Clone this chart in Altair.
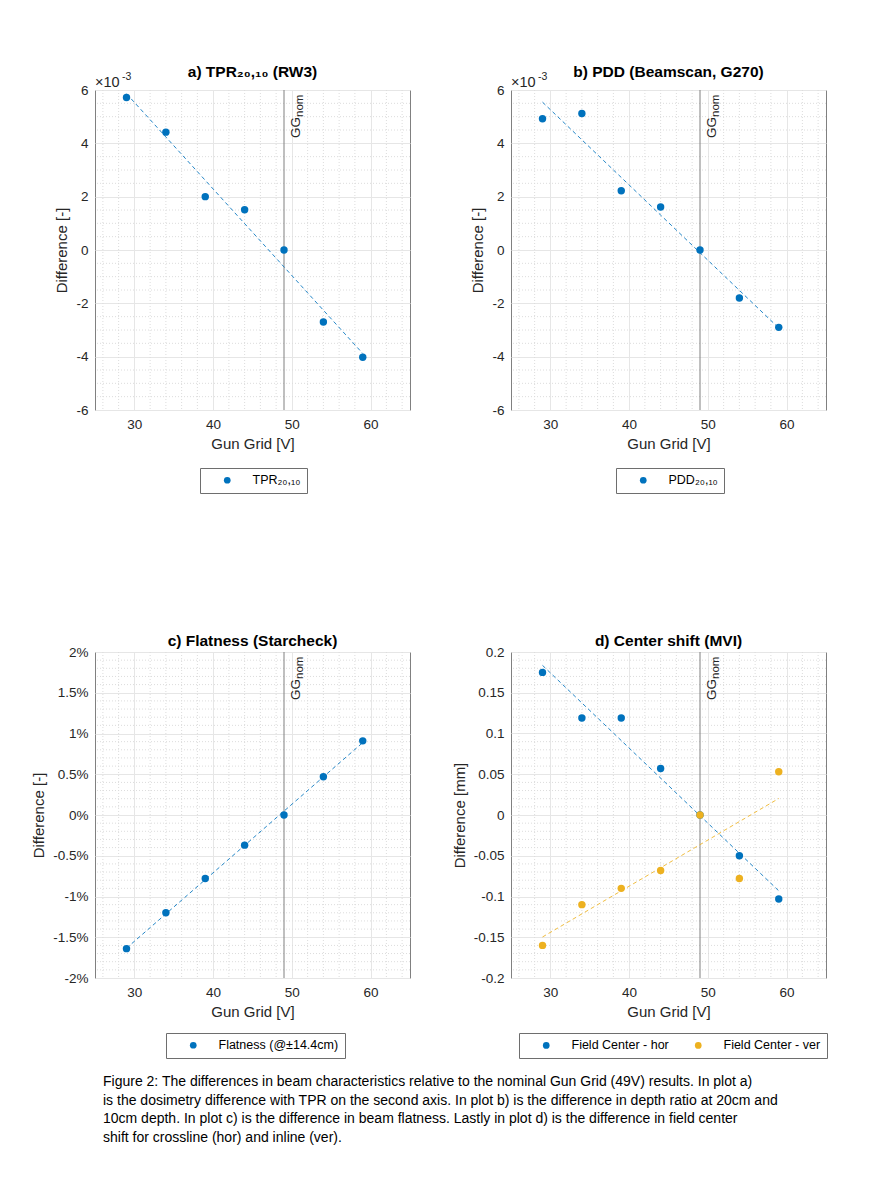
import altair as alt
import pandas as pd

# ---------------- data ----------------
gun_grid = [29, 34, 39, 44, 49, 54, 59]
tpr_diff = [5.72e-3, 4.42e-3, 2.00e-3, 1.51e-3, 0.0, -2.70e-3, -4.02e-3]
pdd_diff = [4.92e-3, 5.12e-3, 2.22e-3, 1.61e-3, 0.0, -1.80e-3, -2.90e-3]
flatness_diff = [-0.0164, -0.0120, -0.0078, -0.0037, 0.0, 0.0047, 0.0091]
center_hor = [0.175, 0.119, 0.119, 0.057, 0.0, -0.050, -0.103]
center_ver = [-0.160, -0.110, -0.090, -0.068, 0.0, -0.078, 0.053]
gg_nominal = [49]

x_major = [30, 40, 50, 60]
x_minor = [v for v in range(26, 65, 2) if v % 10]
y_major_ab = [-6e-3, -4e-3, -2e-3, 0.0, 2e-3, 4e-3, 6e-3]
y_minor_ab = [i * 0.5e-3 for i in range(-12, 13) if i % 4]
y_major_c = [-0.02, -0.015, -0.01, -0.005, 0.0, 0.005, 0.01, 0.015, 0.02]
y_minor_c = [i * 0.001 for i in range(-20, 21) if i % 5]
y_major_d = [-0.2, -0.15, -0.1, -0.05, 0.0, 0.05, 0.1, 0.15, 0.2]
y_minor_d = [i * 0.01 for i in range(-20, 21) if i % 5]

caption = [
    "Figure 2: The differences in beam characteristics relative to the nominal Gun Grid (49V) results. In plot a)",
    "is the dosimetry difference with TPR on the second axis. In plot b) is the difference in depth ratio at 20cm and",
    "10cm depth. In plot c) is the difference in beam flatness. Lastly in plot d) is the difference in field center",
    "shift for crossline (hor) and inline (ver).",
]

FONT = "Liberation Sans"
BLUE = "#0072BD"
YELLOW = "#EDB120"
GRID_MINOR = "#dcdcdc"


def panel(series, title, ytitle, ydom, ymajor, yminor, yexpr, height,
          legend_x, legend_y, title_offset, legend_cols=1, exponent=False):
    rows = []
    for name, vals, _ in series:
        for g, v in zip(gun_grid, vals):
            rows.append({"gun_grid": g, "value": v, "series": name})
    df = pd.DataFrame(rows)
    names = [s[0] for s in series]
    colors = [s[2] for s in series]
    xs = alt.Scale(domain=[25, 65], nice=False, zero=False)
    ys = alt.Scale(domain=ydom, nice=False, zero=False)
    cs = alt.Scale(domain=names, range=colors)
    xax = alt.Axis(values=x_major, title="Gun Grid [V]", grid=True)
    yax = alt.Axis(values=ymajor, title=ytitle, grid=True, labelExpr=yexpr)

    def X(f):
        return alt.X(f, scale=xs, axis=xax)

    def Y(f):
        return alt.Y(f, scale=ys, axis=yax)

    xminor = alt.Chart(pd.DataFrame({"v": x_minor})).mark_rule(
        color=GRID_MINOR, strokeDash=[1, 2], strokeWidth=1
    ).encode(x=X("v:Q"))
    yminor_l = alt.Chart(pd.DataFrame({"v": yminor})).mark_rule(
        color=GRID_MINOR, strokeDash=[1, 2], strokeWidth=1
    ).encode(y=Y("v:Q"))

    gg_df = pd.DataFrame({"g": gg_nominal})
    gg = alt.Chart(gg_df).mark_rule(color="#808080", strokeWidth=1).encode(x=X("g:Q"))
    gg_t = alt.Chart(gg_df).mark_text(
        text="GG", angle=270, align="left", baseline="top", fontSize=13.5,
        dy=5, font=FONT, color="#262626"
    ).encode(x=X("g:Q"), y=alt.value(48))
    nom_t = alt.Chart(gg_df).mark_text(
        text="nom", angle=270, align="left", baseline="top", fontSize=11.5,
        dy=10, font=FONT, color="#262626"
    ).encode(x=X("g:Q"), y=alt.value(27))

    fits = []
    for name, _, col in series:
        fits.append(
            alt.Chart(df).transform_filter(alt.datum.series == name).transform_regression(
                "gun_grid", "value", extent=[29, 59]
            ).mark_line(strokeDash=[4, 3], strokeWidth=1, opacity=0.85, color=col).encode(
                x=X("gun_grid:Q"), y=Y("value:Q"))
        )

    leg = dict(title=None, orient="none", legendX=legend_x, legendY=legend_y)
    if legend_cols > 1:
        leg.update(columns=legend_cols, direction="horizontal")
    pts = alt.Chart(df).mark_circle(size=55, opacity=1).encode(
        x=X("gun_grid:Q"), y=Y("value:Q"),
        color=alt.Color("series:N", scale=cs, legend=alt.Legend(**leg)),
    )

    layers = [xminor, yminor_l, gg, gg_t, nom_t] + fits + [pts]
    if exponent:
        e1 = alt.Chart(gg_df).mark_text(
            text="×10", align="left", baseline="alphabetic", fontSize=14.5,
            font=FONT, color="#262626"
        ).encode(x=alt.value(0), y=alt.value(-3))
        e2 = alt.Chart(gg_df).mark_text(
            text="-3", align="left", baseline="alphabetic", fontSize=10.5,
            font=FONT, color="#262626"
        ).encode(x=alt.value(27), y=alt.value(-10))
        layers += [e1, e2]

    return alt.layer(*layers).properties(
        width=315, height=height,
        title=alt.TitleParams(title, fontSize=15.5, fontWeight="bold", font=FONT,
                              color="black", offset=title_offset, anchor="middle"),
    )


expr_e3 = "'' + round(datum.value * 1000)"
expr_pct = "(round(datum.value * 1000) / 10) + '%'"
expr_mm = "'' + (round(datum.value * 100) / 100)"

pa = panel([("TPR₂₀,₁₀", tpr_diff, BLUE)], "a) TPR₂₀,₁₀ (RW3)", "Difference [-]",
           [-6e-3, 6e-3], y_major_ab, y_minor_ab, expr_e3, 320, 105, 378, -8, exponent=True)
pb = panel([("PDD₂₀,₁₀", pdd_diff, BLUE)], "b) PDD (Beamscan, G270)", "Difference [-]",
           [-6e-3, 6e-3], y_major_ab, y_minor_ab, expr_e3, 320, 105, 378, -8, exponent=True)
pc = panel([("Flatness (@±14.4cm)", flatness_diff, BLUE)], "c) Flatness (Starcheck)",
           "Difference [-]", [-0.02, 0.02], y_major_c, y_minor_c, expr_pct, 326, 71, 381, -4)
pd_ = panel([("Field Center - hor", center_hor, BLUE), ("Field Center - ver", center_ver, YELLOW)],
            "d) Center shift (MVI)", "Difference [mm]", [-0.2, 0.2], y_major_d, y_minor_d,
            expr_mm, 326, 8, 381, -4, legend_cols=2)

chart = alt.concat(
    pa, pb, pc, pd_, columns=2, spacing={"row": 242, "column": 101}, bounds="flush"
).resolve_scale(
    color="independent", x="independent", y="independent"
).resolve_legend(color="independent").properties(
    padding={"left": 23, "top": 56, "right": 10, "bottom": 20},
    title=alt.TitleParams(caption, orient="bottom", anchor="start", frame="group",
                          fontSize=14, fontWeight="normal", font=FONT, color="black",
                          lineHeight=18.7, dx=8, offset=16),
).configure_view(
    stroke="#808080", strokeWidth=1
).configure_axis(
    labelFont=FONT, labelFontSize=13.5, labelColor="#262626",
    titleFont=FONT, titleFontSize=15, titleFontWeight="normal", titleColor="#262626",
    gridColor="#e6e6e6", gridWidth=1, domain=False, ticks=False,
    labelPadding=7, titlePadding=6,
).configure_legend(
    strokeColor="#6e6e6e", fillColor="white", padding=6, symbolType="circle",
    symbolSize=45, symbolOffset=15, labelOffset=19, labelFont=FONT,
    labelFontSize=12.5, labelColor="black", columnPadding=8, cornerRadius=0,
    symbolStrokeWidth=0,
)

chart.save("out.html", embed_options={"renderer": "svg", "actions": False})
